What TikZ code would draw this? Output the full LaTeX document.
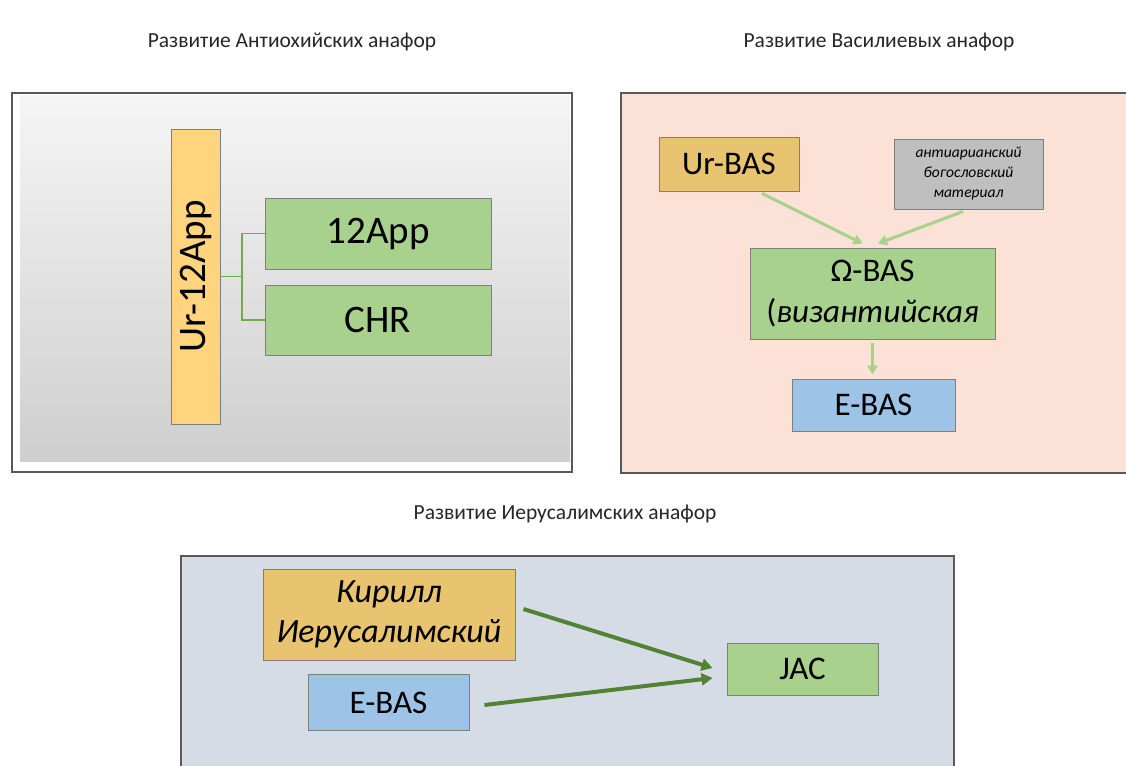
\documentclass[tikz,border=0pt]{standalone}
\usepackage{fontspec}
\setmainfont{Carlito}
\usepackage{tikz}
\usetikzlibrary{arrows.meta,positioning}
\definecolor{panelline}{HTML}{595959}
\definecolor{blkline}{HTML}{7F7F7F}
\definecolor{bargold}{HTML}{FFD47F}
\definecolor{boxgold}{HTML}{E8C470}
\definecolor{boxgray}{HTML}{BFBFBF}
\definecolor{leafgreen}{HTML}{A9D18E}
\definecolor{forkgreen}{HTML}{70AD47}
\definecolor{darkgreen}{HTML}{548235}
\definecolor{skyblue}{HTML}{9DC3E6}
\definecolor{peach}{HTML}{FBE1D6}
\definecolor{slate}{HTML}{D6DCE5}
\definecolor{titlegray}{HTML}{262626}
\newcommand*{\bigfont}{\fontsize{39}{44}\selectfont}
\newcommand*{\midfont}{\fontsize{33}{41}\selectfont}
\newcommand*{\smallit}{\fontsize{15.5}{20}\selectfont\itshape}

\begin{document}
\begin{tikzpicture}[x=1pt,y=-1pt,
    panel/.style={draw=panelline,line width=1.2pt},
    blk/.style={draw=blkline,line width=0.9pt,inner sep=0pt,align=center,font=\midfont},
    title/.style={anchor=base,font=\fontsize{21.5}{24}\selectfont,text=titlegray},
    forkline/.style={draw=forkgreen,line width=1.2pt},
    softarrow/.style={draw=leafgreen,line width=3pt,-{Triangle[length=9pt,width=10pt]}},
    darkarrow/.style={draw=darkgreen,line width=4pt,-{Triangle[length=11pt,width=12pt]}}]
    \useasboundingbox (0,0) rectangle (1126,765);
    \fill[white] (0,0) rectangle (1126,765);
    \clip (0,0) rectangle (1126,765);

    \node[title] (t1) at (292,48) {Развитие Антиохийских анафор};
    \node[title] (t2) at (879,48) {Развитие Василиевых анафор};
    \node[title] (t3) at (565,519) {Развитие Иерусалимских анафор};

    \shade[top color=white!96!black,bottom color=white!81!black] (20,96) rectangle (570,461);
    \draw[panel] (12,93) rectangle (572,472);
    \draw[panel,fill=peach] (621,93) rectangle (1140,473);
    \draw[panel,fill=slate] (181,556) rectangle (954,780);

    \node[blk,fill=bargold,minimum width=49pt,minimum height=295pt] (ur) at (195.5,276.5) {};
    \node[rotate=90,font=\bigfont] (urtext) at (ur) {Ur-12App};
    \node[blk,fill=leafgreen,minimum width=226pt,minimum height=71pt,font=\bigfont] (app) at (378,233.5) {12App};
    \node[blk,fill=leafgreen,minimum width=226pt,minimum height=70pt,font=\bigfont] (chr) at (378,320) {CHR};
    \coordinate (fork) at (242,276.5);
    \draw[forkline] (ur.east) -- (fork);
    \draw[forkline] (app.west) -| (fork) |- (chr.west);

    \node[blk,fill=boxgold,minimum width=140pt,minimum height=54pt] (urbas) at (729,164) {Ur-BAS};
    \node[blk,fill=boxgray,minimum width=149pt,minimum height=70pt,font=\smallit] (mat) at (968.5,174)
      {антиарианский\\богословский\\материал};
    \node[blk,fill=leafgreen,minimum width=245pt,minimum height=91pt] (omega) at (872.5,293.5)
      {Ω-BAS\\(\textit{византийская}};
    \node[blk,fill=skyblue,minimum width=163pt,minimum height=52pt] (ebas) at (873.5,405) {E-BAS};
    \path[softarrow] ([xshift=33pt,yshift=-2pt]urbas.south) -- ([xshift=-10pt,yshift=4pt]omega.north);
    \path[softarrow] ([xshift=-5.5pt,yshift=-2pt]mat.south) -- ([xshift=5.5pt,yshift=4pt]omega.north);
    \path[softarrow,shorten <=4pt,shorten >=4pt] (omega.south) -- (omega.south |- ebas.north);

    \node[blk,fill=boxgold,minimum width=252pt,minimum height=91pt,font=\fontsize{34}{40}\selectfont\itshape] (kir) at (389,614.5)
      {Кирилл\\Иерусалимский};
    \node[blk,fill=skyblue,minimum width=161pt,minimum height=56pt] (ebas2) at (388.5,702.5) {E-BAS};
    \node[blk,fill=leafgreen,minimum width=151pt,minimum height=52pt] (jac) at (802.5,669) {JAC};
    \path[darkarrow] ([xshift=8pt,yshift=5.5pt]kir.east) -- ([xshift=-14pt,yshift=1pt]jac.west);
    \path[darkarrow] ([xshift=15pt,yshift=-2.5pt]ebas2.east) -- ([xshift=-14pt,yshift=-9pt]jac.west);
\end{tikzpicture}
\end{document}
